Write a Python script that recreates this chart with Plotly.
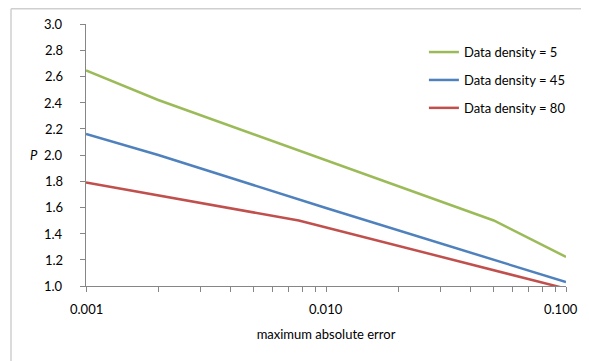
import math
import plotly.graph_objects as go

# Data
green_x = [0.001, 0.002, 0.05, 0.1]
green_y = [2.645, 2.42, 1.50, 1.222]
blue_x = [0.001, 0.002, 0.01, 0.05, 0.1]
blue_y = [2.16, 2.00, 1.595, 1.20, 1.03]
red_x = [0.001, 0.0077, 0.1]
red_y = [1.79, 1.50, 0.98]

series_names = ["Data density = 5", "Data density = 45", "Data density = 80"]
series_colors = ["#9BBB59", "#4F81BD", "#C0504D"]

x_major = [0.001, 0.01, 0.1]
x_major_labels = ["0.001", "0.010", "0.100"]
y_ticks = [1.0, 1.2, 1.4, 1.6, 1.8, 2.0, 2.2, 2.4, 2.6, 2.8, 3.0]
y_tick_labels = ["1.0", "1.2", "1.4", "1.6", "1.8", "2.0", "2.2", "2.4", "2.6", "2.8", "3.0"]

FONT = "Lato"
AXIS_COLOR = "#868686"

fig = go.Figure()
for i, (xs, ys) in enumerate([(green_x, green_y), (blue_x, blue_y), (red_x, red_y)]):
    fig.add_trace(go.Scatter(
        x=xs, y=ys, mode="lines", name=series_names[i],
        line=dict(color=series_colors[i], width=2.5),
        legendgroup=str(i),
    ))

# tick positions on log axis: majors plus 2..9 minors
tickvals = []
for d in [0.001, 0.01]:
    for m in range(1, 10):
        tickvals.append(round(d * m, 6))
tickvals.append(0.1)

# page body has an 8px margin; figure is sized so the plot lands where the reference has it
fig.update_layout(
    width=581, height=353,
    margin=dict(l=78, r=15, t=16, b=75),
    paper_bgcolor="white", plot_bgcolor="white",
    font=dict(family=FONT, size=13, color="#000000"),
    showlegend=True,
    legend=dict(
        x=0.704, y=0.95, xanchor="left", yanchor="top",
        bgcolor="rgba(0,0,0,0)", tracegroupgap=8,
        font=dict(family=FONT, size=13, color="#000000"),
        itemwidth=30,
    ),
    xaxis=dict(
        type="log", range=[-3, -1],
        tickmode="array", tickvals=tickvals, showticklabels=False,
        ticks="outside", ticklen=5, tickcolor=AXIS_COLOR,
        showline=True, linecolor=AXIS_COLOR, linewidth=1,
        showgrid=False, zeroline=False,
        title=dict(text="maximum absolute error", standoff=38,
                   font=dict(family=FONT, size=13)),
    ),
    yaxis=dict(
        range=[1, 3], tickmode="array", tickvals=y_ticks, showticklabels=False,
        ticks="outside", ticklen=5, tickcolor=AXIS_COLOR,
        showline=True, linecolor=AXIS_COLOR, linewidth=1,
        showgrid=False, zeroline=False,
    ),
)
# keep plot width 480px (86..566 on the page)
fig.update_layout(margin=dict(r=581 - 78 - 480))

# x tick labels placed below the axis
for v, lab in zip(x_major, x_major_labels):
    fig.add_annotation(
        text=lab, xref="x", yref="paper", x=math.log10(v), y=0,
        xanchor="center", yanchor="top", yshift=-13,
        xshift=-5 if v == x_major[-1] else 0, showarrow=False,
        font=dict(family=FONT, size=13, color="#000000"),
    )

# y tick labels to the left of the axis
for v, lab in zip(y_ticks, y_tick_labels):
    fig.add_annotation(
        text=lab, xref="paper", yref="y", x=0, y=v,
        xanchor="right", yanchor="middle", xshift=-21, showarrow=False,
        font=dict(family=FONT, size=13, color="#000000"),
    )

fig.add_annotation(
    text="<i>P</i>", xref="paper", yref="y", x=0, y=2.0,
    xanchor="right", yanchor="middle", xshift=-46, showarrow=False,
    font=dict(family=FONT, size=13, color="#000000"),
)

# outer chart frame (top and left edges visible)
fig.add_shape(type="line", xref="paper", yref="paper",
              x0=-0.15625, x1=1.2, y0=1.058, y1=1.058,
              line=dict(color="#CFCFCF", width=1.5))
fig.add_shape(type="line", xref="paper", yref="paper",
              x0=-0.15625, x1=-0.15625, y0=1.058, y1=-0.3,
              line=dict(color="#CFCFCF", width=1.5))

fig.write_html("out.html")
